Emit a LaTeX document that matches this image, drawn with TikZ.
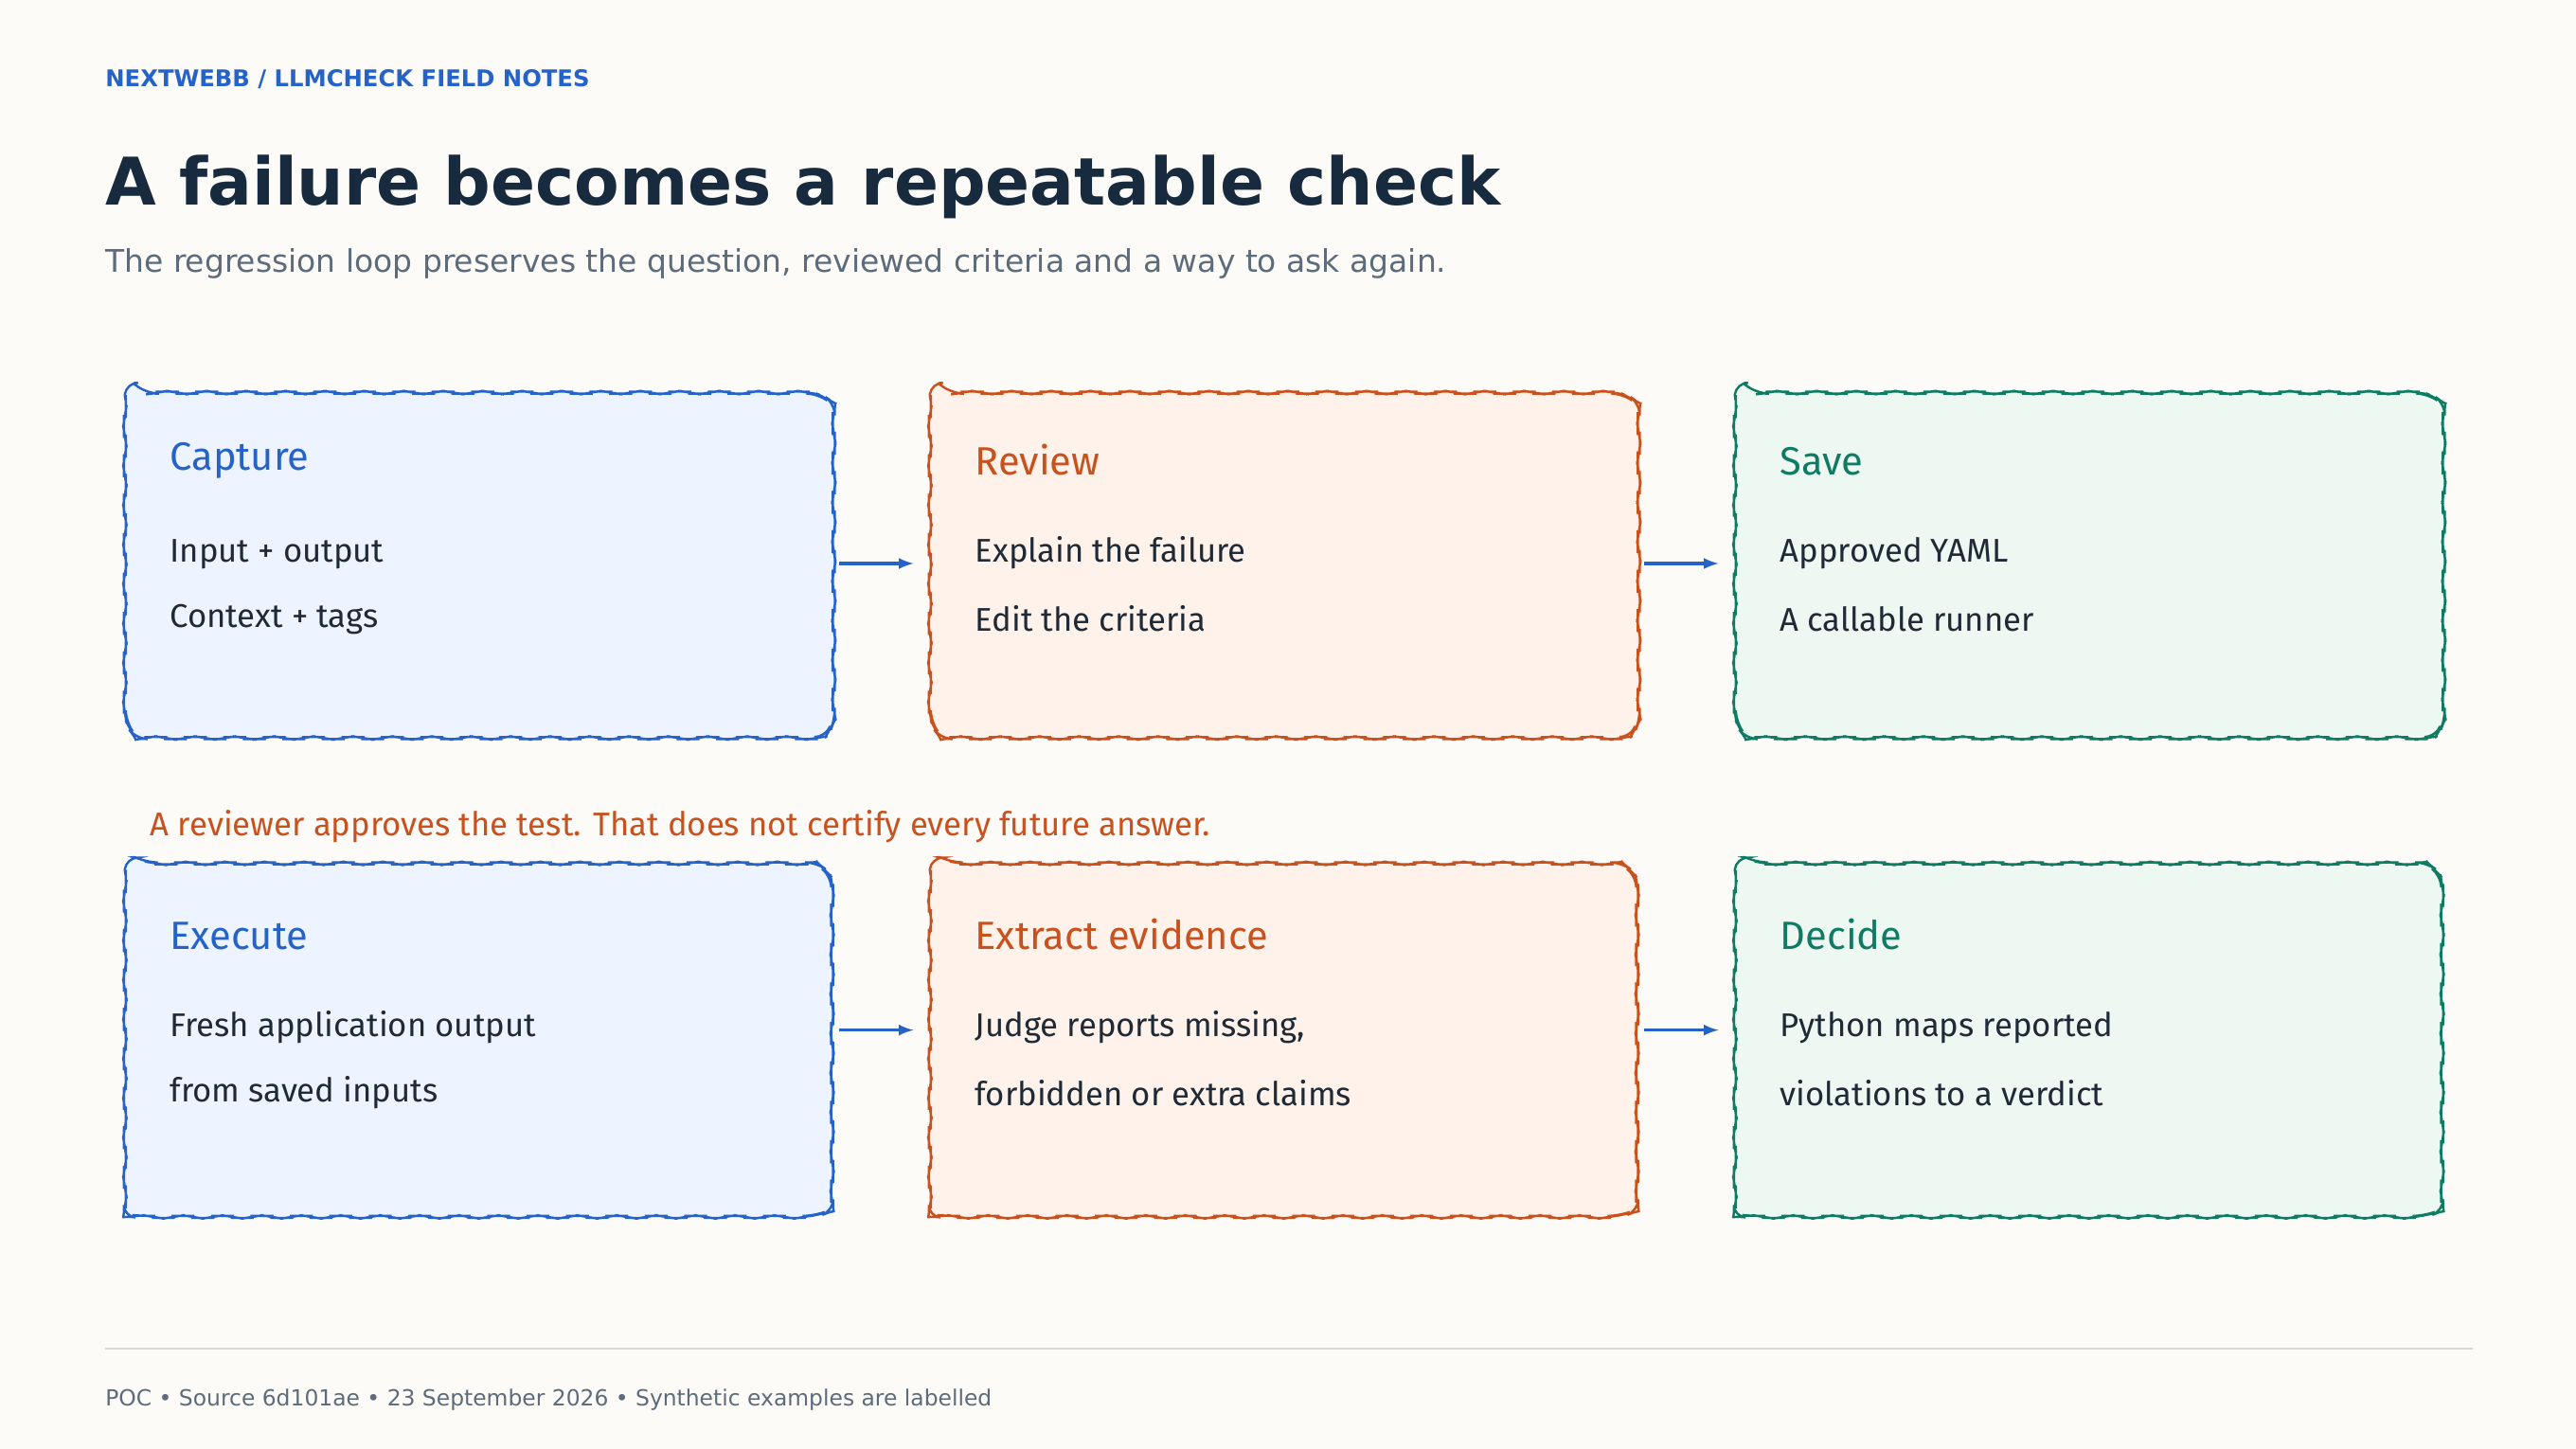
\documentclass[tikz,border=0pt]{standalone}
\usepackage{fontspec}
\setmainfont{DejaVu Sans}
\newfontfamily\hand{Fira Sans}
\usetikzlibrary{decorations.pathmorphing}
\definecolor{bg}{HTML}{FCFBF8}
\definecolor{cblue}{HTML}{2563C9}
\definecolor{fblue}{HTML}{EEF4FF}
\definecolor{corange}{HTML}{C8511E}
\definecolor{forange}{HTML}{FFF2EA}
\definecolor{cgreen}{HTML}{0F7B63}
\definecolor{fgreen}{HTML}{EDF8F2}
\definecolor{ctitle}{HTML}{172A3E}
\definecolor{cgrey}{HTML}{5D6B7A}
\definecolor{cbody}{HTML}{1E2A36}
\tikzset{
  box/.style={line width=1.4pt, rounded corners=7pt, decorate, decoration={snake, amplitude=0.6pt, segment length=24pt}},
  btitle/.style={anchor=base west, font=\hand\fontsize{24}{28}\selectfont},
  bbody/.style={anchor=base west, font=\hand\fontsize{20}{24}\selectfont, text=cbody},
  arr/.style={-latex, line width=2pt, cblue},
}
\begin{document}
\begin{tikzpicture}[x=1pt,y=-1pt]
\fill[bg] (0,0) rectangle (1568,882);
\useasboundingbox (0,0) rectangle (1568,882);
\node[anchor=base west, inner sep=0, text=cblue, font=\bfseries\fontsize{14}{16}\selectfont] (hdr) at (64,53) {NEXTWEBB / LLMCHECK FIELD NOTES};
\node[anchor=base west, inner sep=0, text=ctitle, font=\bfseries\fontsize{40}{46}\selectfont] (ttl) at (64,125) {A failure becomes a repeatable check};
\node[anchor=base west, inner sep=0, text=cgrey, font=\fontsize{19}{22}\selectfont] (sub) at (64,166) {The regression loop preserves the question, reviewed criteria and a way to ask again.};
% boxes
\foreach \n/\x/\ya/\yb/\c/\f in {b1/76/233/442/cblue/fblue, b2/566/233/442/corange/forange, b3/1056/233/442/cgreen/fgreen,
  b4/76/522/737/cblue/fblue, b5/566/522/737/corange/forange, b6/1056/522/737/cgreen/fgreen}{
  \draw[box, draw=\c, fill=\f] (\x,\ya) rectangle (\x+431,\yb);
  \coordinate (\n w) at (\x,{(\ya+\yb)/2});
  \coordinate (\n e) at (\x+431,{(\ya+\yb)/2});
}
\node[btitle, text=cblue] (t1) at (100,286) {Capture};
\node[bbody] (l1a) at (100,342) {Input + output};
\node[bbody] (l1b) at (100,382) {Context + tags};
\node[btitle, text=corange] (t2) at (590,289) {Review};
\node[bbody] (l2a) at (590,342) {Explain the failure};
\node[bbody] (l2b) at (590,384) {Edit the criteria};
\node[btitle, text=cgreen] (t3) at (1080,289) {Save};
\node[bbody] (l3a) at (1080,342) {Approved YAML};
\node[bbody] (l3b) at (1080,384) {A callable runner};
\node[btitle, text=cblue] (t4) at (100,578) {Execute};
\node[bbody] (l4a) at (100,631) {Fresh application output};
\node[bbody] (l4b) at (100,671) {from saved inputs};
\node[btitle, text=corange] (t5) at (590,578) {Extract evidence};
\node[bbody] (l5a) at (590,631) {Judge reports missing,};
\node[bbody] (l5b) at (590,673) {forbidden or extra claims};
\node[btitle, text=cgreen] (t6) at (1080,578) {Decide};
\node[bbody] (l6a) at (1080,631) {Python maps reported};
\node[bbody] (l6b) at (1080,673) {violations to a verdict};
\node[anchor=base west, text=corange, font=\hand\fontsize{20}{24}\selectfont] (note) at (88,509) {A reviewer approves the test. That does not certify every future answer.};
% arrows
\coordinate (a1s) at (511,343); \coordinate (a1e) at (556,343);
\draw[arr] (a1s) -- (a1e);
\coordinate (a2s) at (1001,343); \coordinate (a2e) at (1046,343);
\draw[arr] (a2s) -- (a2e);
\coordinate (a3s) at (511,627); \coordinate (a3e) at (556,627);
\draw[arr] (a3s) -- (a3e);
\coordinate (a4s) at (1001,627); \coordinate (a4e) at (1046,627);
\draw[arr] (a4s) -- (a4e);
% footer
\coordinate (fl) at (64,821); \coordinate (fr) at (1505,821);
\draw[line width=1pt, color=black!15] (fl) -- (fr);
\node[anchor=base west, inner sep=0, text=cgrey, font=\fontsize{13.5}{16}\selectfont] (foot) at (64,856) {POC • Source 6d101ae • 23 September 2026 • Synthetic examples are labelled};
\end{tikzpicture}
\end{document}
